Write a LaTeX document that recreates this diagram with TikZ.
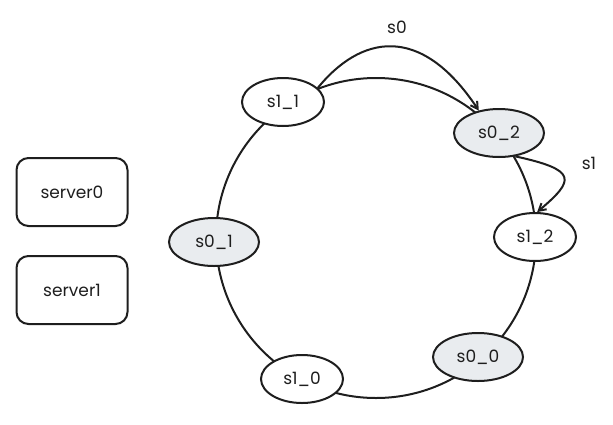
\documentclass[tikz,border=0pt]{standalone}
\usepackage{fontspec}
\setmainfont{Poppins}
\usetikzlibrary{arrows.meta, shapes.geometric}
\definecolor{ink-black}{HTML}{1E1E1E}
\definecolor{shard-gray}{HTML}{E9ECEF}

\begin{document}
\begin{tikzpicture}[x=1pt, y=-1pt,
        every node/.style={font=\fontsize{17}{20}\selectfont, text=ink-black},
        shard/.style={draw=ink-black, line width=2pt, ellipse, fill=white,
            minimum width=82pt, minimum height=48pt, inner sep=0pt},
        shardgray/.style={shard, fill=shard-gray, minimum width=90pt},
        serverbox/.style={draw=ink-black, line width=2pt, rounded corners=12pt,
            minimum width=111pt, minimum height=68pt},
        link/.style={draw=ink-black, line width=2pt,
            -{Straight Barb[length=7pt, width=8pt]}}]
      \useasboundingbox (0,0) rectangle (613,424);
      % hash ring
      \coordinate (RING) at (376,238);
      \draw[ink-black, line width=2pt] (RING) circle[radius=160pt];
      % servers
      \node[serverbox] (SRV0) at (72,192) {server0};
      \node[serverbox] (SRV1) at (72,290) {server1};
      % virtual nodes on the ring
      \node[shard] (S11) at (283,102) {s1\_1};
      \node[shardgray] (S02) at (499,133) {s0\_2};
      \node[shard] (S12) at (535,237) {s1\_2};
      \node[shardgray] (S00) at (478,357) {s0\_0};
      \node[shard] (S10) at (302,379) {s1\_0};
      \node[shardgray] (S01) at (214,242) {s0\_1};
      % lookups
      \draw[link] (S11.22) .. controls (360,36) and (420,22) .. (S02.132);
      \node (LBL0) at (397,27) {s0};
      \draw[link] (S02.-55) .. controls (578,170) and (575,180) .. (S12.85);
      \node (LBL1) at (589,163) {s1};
    \end{tikzpicture}
\end{document}
